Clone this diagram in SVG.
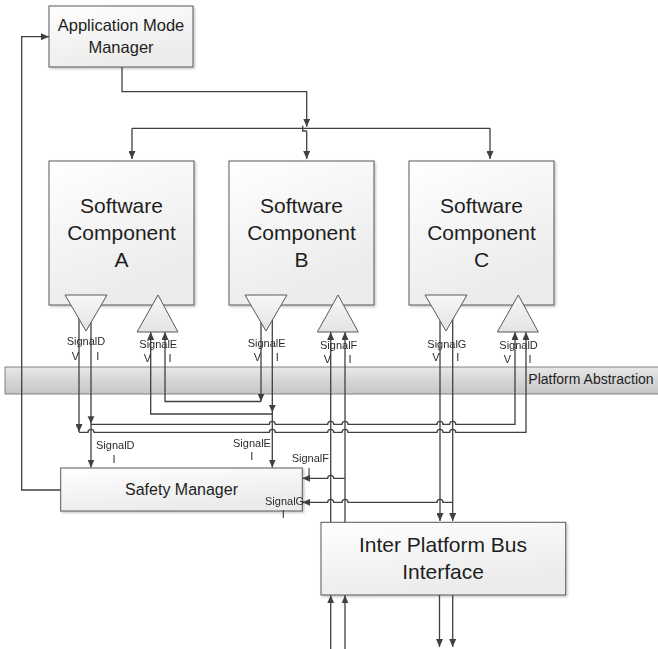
<svg xmlns="http://www.w3.org/2000/svg" width="658" height="649" viewBox="0 0 658 649">
  <defs>
    <linearGradient id="boxFill" x1="0" y1="0" x2="0.4" y2="1">
      <stop offset="0" stop-color="#ffffff"/>
      <stop offset="1" stop-color="#ebebeb"/>
    </linearGradient>
    <linearGradient id="bandFill" x1="0" y1="0" x2="0" y2="1">
      <stop offset="0" stop-color="#e8e8e8"/>
      <stop offset="0.5" stop-color="#d6d6d6"/>
      <stop offset="1" stop-color="#c6c6c6"/>
    </linearGradient>
    <linearGradient id="triFill" x1="0" y1="0" x2="0" y2="1">
      <stop offset="0" stop-color="#f7f7f7"/>
      <stop offset="1" stop-color="#e4e4e4"/>
    </linearGradient>
    <filter id="shadow" x="-5%" y="-5%" width="115%" height="120%">
      <feDropShadow dx="1.5" dy="1.5" stdDeviation="1" flood-color="#000" flood-opacity="0.22"/>
    </filter>
    <marker id="arr" viewBox="0 0 8 7" refX="8" refY="3.5" markerWidth="8" markerHeight="7" markerUnits="userSpaceOnUse" orient="auto">
      <path d="M0,0 L8,3.5 L0,7 z" fill="#404040"/>
    </marker>
  </defs>
  <style>
    .box { fill: url(#boxFill); stroke: #595959; stroke-width: 1; filter: url(#shadow); }
    .tri { fill: url(#triFill); stroke: #595959; stroke-width: 1; }
    .band { fill: url(#bandFill); stroke: #6a6a6a; stroke-width: 0.8; }
    .ln { fill: none; stroke: #404040; stroke-width: 1.3; }
    .ar { marker-end: url(#arr); }
    .ah { fill: #404040; }
    text { font-family: "Liberation Sans", Arial, sans-serif; fill: #1e1e1e; }
    .big { font-size: 21px; text-anchor: middle; }
    .mid { font-size: 16.5px; text-anchor: middle; }
    .sm { font-size: 11px; fill: #2a2a2a; }
    .c { text-anchor: middle; }
    #signal-labels { opacity: 0.99; }
  </style>

  <!-- platform abstraction layer -->
  <g id="platform-abstraction">
    <rect class="band" x="5" y="367" width="660" height="27"/>
    <text x="528.3" y="384" style="font-size:14px">Platform Abstraction</text>
  </g>

  <g id="app-mode-manager">
    <rect class="box" x="49" y="6" width="144" height="61"/>
    <text class="mid" x="121" y="31">Application Mode</text>
    <text class="mid" x="121" y="53">Manager</text>
  </g>

  <g id="component-a">
    <rect class="box" x="49" y="161" width="145" height="144"/>
    <text class="big" x="121.5" y="213">Software</text>
    <text class="big" x="121.5" y="240">Component</text>
    <text class="big" x="121.5" y="267">A</text>
  </g>
  <g id="component-b">
    <rect class="box" x="229" y="161" width="145" height="144"/>
    <text class="big" x="301.5" y="213">Software</text>
    <text class="big" x="301.5" y="240">Component</text>
    <text class="big" x="301.5" y="267">B</text>
  </g>
  <g id="component-c">
    <rect class="box" x="409" y="161" width="145" height="144"/>
    <text class="big" x="481.5" y="213">Software</text>
    <text class="big" x="481.5" y="240">Component</text>
    <text class="big" x="481.5" y="267">C</text>
  </g>

  <g id="safety-manager">
    <rect class="box" x="60.7" y="468" width="241.6" height="43"/>
    <text x="181.5" y="495" style="font-size:16px;text-anchor:middle">Safety Manager</text>
  </g>

  <g id="inter-platform-bus">
    <rect class="box" x="321" y="522.3" width="244.7" height="72.7"/>
    <text x="443" y="551.5" style="font-size:21px;text-anchor:middle">Inter Platform Bus</text>
    <text x="443" y="578.5" style="font-size:21px;text-anchor:middle">Interface</text>
  </g>

  <!-- connectors -->
  <g id="connectors">
    <!-- mode manager fan-out -->
    <path class="ln ar" d="M122,67 V91.7 H306.7 V126.7"/>
    <path class="ln" d="M132,128.3 H490"/>
    <path class="ln ar" d="M132,128.3 V159"/>
    <path class="ln ar" d="M490,128.3 V159"/>
    <path class="ln" d="M302.7,125.7 V131 H306.7"/>
    <path class="ln ar" d="M306.7,131 V159"/>

    <!-- safety manager feedback to mode manager -->
    <path class="ln ar" d="M60.7,490 H21.7 V36.7 H49"/>

    <!-- SignalD from A -->
    <path class="ln ar" d="M79,312 V432"/>
    <path class="ln ar" d="M91,312 V467.5"/>
    <path class="ah" d="M87.6,416.3 H94.4 L91,423.6 z"/>
    <path class="ln ar" d="M91,424.3 H269.3 a3,3 0 0 1 6,0 H327.7 a3,3 0 0 1 6,0 H342 a3,3 0 0 1 6,0 H437 a3,3 0 0 1 6,0 H449.7 a3,3 0 0 1 6,0 H515 V332"/>
    <path class="ln ar" d="M79,432.3 H88 a3,3 0 0 1 6,0 H269.3 a3,3 0 0 1 6,0 H327.7 a3,3 0 0 1 6,0 H342 a3,3 0 0 1 6,0 H437 a3,3 0 0 1 6,0 H449.7 a3,3 0 0 1 6,0 H526 V332"/>

    <!-- SignalE from B -->
    <path class="ln ar" d="M261,312 V401.5"/>
    <path class="ln ar" d="M261,401.5 H165 V332"/>
    <path class="ln ar" d="M272.3,312 V467.5"/>
    <path class="ah" d="M268.9,405 H275.7 L272.3,412.3 z"/>
    <path class="ln ar" d="M272.3,414 H150.7 V332"/>

    <!-- SignalF from bus interface -->
    <path class="ln ar" d="M330.7,522.3 V332"/>
    <path class="ln ar" d="M345,522.3 V332"/>
    <path class="ln ar" d="M330.7,649 V595.3"/>
    <path class="ln ar" d="M345,649 V595.3"/>
    <path class="ln ar" d="M345,478.3 H333.7 a3,3 0 0 0 -6,0 H302.3"/>

    <!-- SignalG from C -->
    <path class="ln ar" d="M440,312 V521"/>
    <path class="ln ar" d="M452.7,312 V521"/>
    <path class="ln ar" d="M439.5,595 V647"/>
    <path class="ln ar" d="M452.7,595 V647"/>
    <path class="ln ar" d="M452.7,502.3 H443 a3,3 0 0 0 -6,0 H348 a3,3 0 0 0 -6,0 H333.7 a3,3 0 0 0 -6,0 H302.3"/>
  </g>

  <!-- ports -->
  <g id="ports">
    <polygon class="tri" points="65,295 107,295 86,331"/>
    <polygon class="tri" points="158,295 137,332 178,332"/>
    <polygon class="tri" points="245,295 287,295 266,331"/>
    <polygon class="tri" points="338,295 317.3,332 358.3,332"/>
    <polygon class="tri" points="425,295 467,295 446,331"/>
    <polygon class="tri" points="518.3,295 497.3,332 538.3,332"/>
  </g>

  <!-- signal labels -->
  <g id="signal-labels">
    <text class="sm" x="66.7" y="345">SignalD</text>
    <text class="sm c" x="75.3" y="360">V</text>
    <text class="sm c" x="97.7" y="360">I</text>

    <text class="sm" x="139.3" y="347.7">SignalE</text>
    <text class="sm c" x="147.3" y="361.7">V</text>
    <text class="sm c" x="170" y="361.7">I</text>

    <text class="sm" x="247.7" y="346.7">SignalE</text>
    <text class="sm c" x="257.3" y="361">V</text>
    <text class="sm c" x="277.3" y="361">I</text>

    <text class="sm" x="320" y="349">SignalF</text>
    <text class="sm c" x="327.3" y="363">V</text>
    <text class="sm c" x="350" y="363">I</text>

    <text class="sm" x="427.3" y="347.7">SignalG</text>
    <text class="sm c" x="436" y="360.5">V</text>
    <text class="sm c" x="457.7" y="360.5">I</text>

    <text class="sm" x="499.3" y="349">SignalD</text>
    <text class="sm c" x="507.3" y="363">V</text>
    <text class="sm c" x="530" y="363">I</text>

    <text class="sm" x="96" y="449">SignalD</text>
    <text class="sm c" x="114" y="463">I</text>

    <text class="sm" x="233" y="446.7">SignalE</text>
    <text class="sm c" x="251.7" y="460">I</text>

    <text class="sm" x="291.7" y="461.7">SignalF</text>
    <text class="sm c" x="309" y="476">I</text>

    <text class="sm" x="265" y="505">SignalG</text>
    <text class="sm c" x="283.3" y="518">I</text>
  </g>
</svg>
